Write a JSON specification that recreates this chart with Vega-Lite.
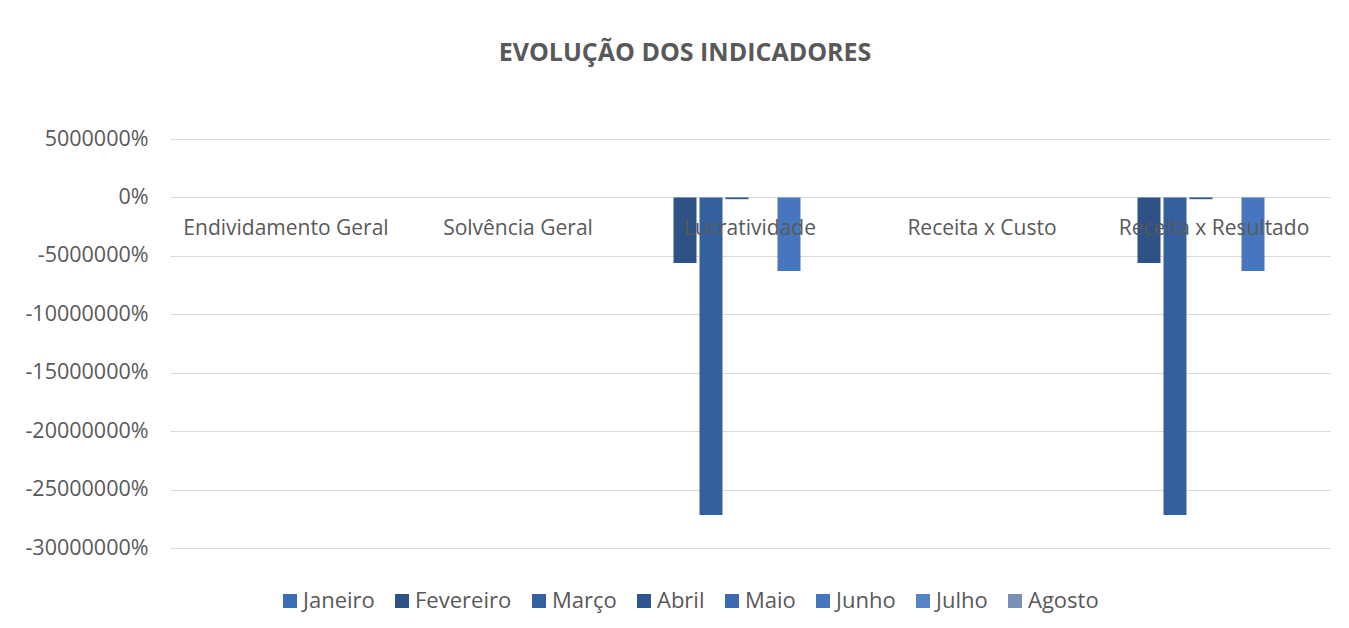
{
  "$schema": "https://vega.github.io/schema/vega-lite/v6.json",
  "autosize": "none",
  "width": 1160,
  "height": 409,
  "padding": {"left": 170, "top": 139, "right": 19, "bottom": 80},
  "background": "white",
  "title": {
    "text": "EVOLUÇÃO DOS INDICADORES",
    "anchor": "middle",
    "frame": "group",
    "dx": -65,
    "offset": 62,
    "font": "Open Sans",
    "fontSize": 25,
    "fontWeight": "bold",
    "color": "#595959"
  },
  "data": {
    "values": [
      {"indicador": "Endividamento Geral", "mes": "Janeiro", "valor": null},
      {"indicador": "Solvência Geral", "mes": "Janeiro", "valor": null},
      {"indicador": "Receita x Custo", "mes": "Janeiro", "valor": null},
      {"indicador": "Lucratividade", "mes": "Fevereiro", "valor": -56200},
      {"indicador": "Lucratividade", "mes": "Março", "valor": -271800},
      {"indicador": "Lucratividade", "mes": "Abril", "valor": -1500},
      {"indicador": "Lucratividade", "mes": "Junho", "valor": -63000},
      {"indicador": "Receita x Resultado", "mes": "Fevereiro", "valor": -56200},
      {"indicador": "Receita x Resultado", "mes": "Março", "valor": -271800},
      {"indicador": "Receita x Resultado", "mes": "Abril", "valor": -1500},
      {"indicador": "Receita x Resultado", "mes": "Junho", "valor": -63000}
    ]
  },
  "mark": {"type": "bar"},
  "encoding": {
    "x": {
      "field": "indicador",
      "type": "nominal",
      "sort": ["Endividamento Geral", "Solvência Geral", "Lucratividade", "Receita x Custo", "Receita x Resultado"],
      "scale": {"paddingInner": 0.1034, "paddingOuter": 0.0517},
      "axis": {
        "title": null,
        "orient": "bottom",
        "offset": -351,
        "zindex": 1,
        "labelAngle": 0,
        "ticks": false,
        "domain": false,
        "labelPadding": 20,
        "labelLimit": 0,
        "labelFont": "Open Sans",
        "labelFontSize": 21,
        "labelColor": "#595959"
      }
    },
    "xOffset": {
      "field": "mes",
      "type": "nominal",
      "sort": ["Janeiro", "Fevereiro", "Março", "Abril", "Maio", "Junho", "Julho", "Agosto"],
      "scale": {"domain": ["Janeiro", "Fevereiro", "Março", "Abril", "Maio", "Junho", "Julho", "Agosto"], "paddingInner": 0.115, "paddingOuter": 0.058}
    },
    "y": {
      "field": "valor",
      "type": "quantitative",
      "scale": {"domain": [-300000, 50000], "nice": false, "zero": true},
      "axis": {
        "title": null,
        "values": [-300000, -250000, -200000, -150000, -100000, -50000, 0, 50000],
        "format": ".0%",
        "labelExpr": "replace(datum.label, '\u2212', '-')",
        "ticks": false,
        "domain": false,
        "labelPadding": 22,
        "labelFont": "Open Sans",
        "labelFontSize": 21.5,
        "labelColor": "#595959",
        "gridColor": "#D9D9D9",
        "gridWidth": 1
      }
    },
    "color": {
      "field": "mes",
      "type": "nominal",
      "scale": {
        "domain": ["Janeiro", "Fevereiro", "Março", "Abril", "Maio", "Junho", "Julho", "Agosto"],
        "range": ["#3B6DB3", "#2E5286", "#34609F", "#2F5590", "#3B6AB3", "#4676BE", "#5684C6", "#7890B5"]
      },
      "legend": {
        "title": null,
        "orient": "none",
        "direction": "horizontal",
        "legendX": 109,
        "legendY": 451,
        "symbolType": "square",
        "symbolSize": 196,
        "symbolStrokeWidth": 0,
        "labelFont": "Open Sans",
        "labelFontSize": 22,
        "labelColor": "#595959",
        "labelOffset": 2,
        "columnPadding": 16
      }
    }
  },
  "config": {
    "view": {"stroke": null}
  }
}
